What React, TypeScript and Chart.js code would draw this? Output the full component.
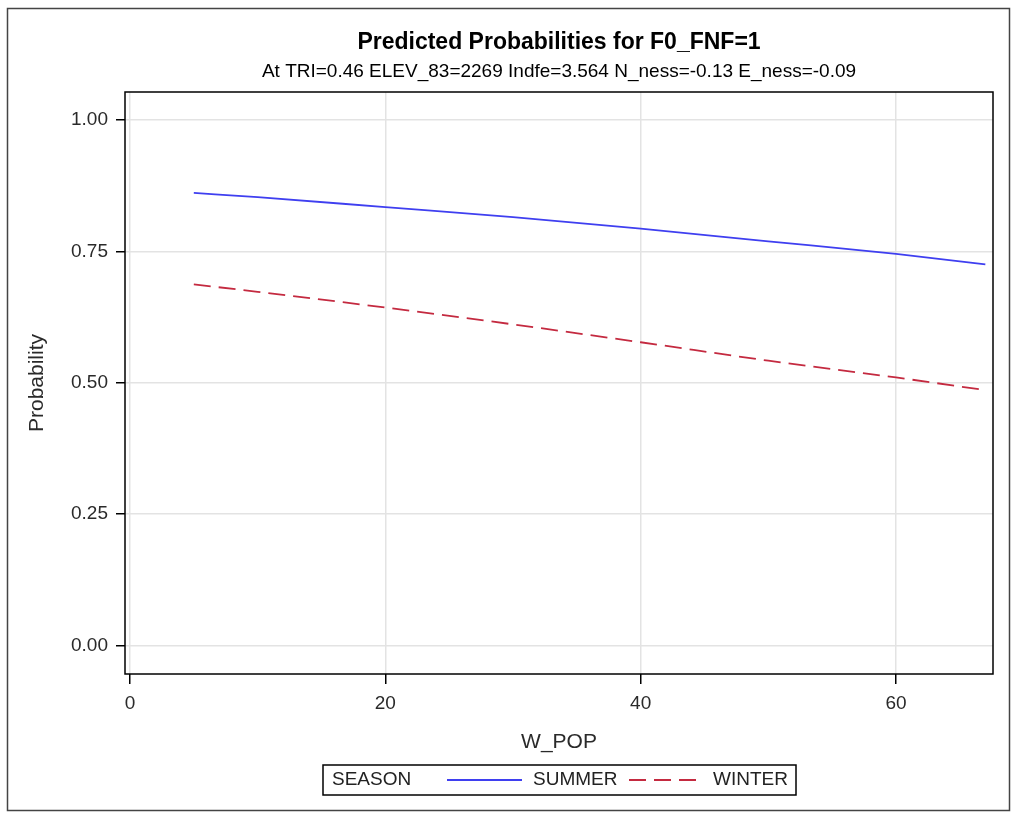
import React, { useEffect, useRef } from "react";
import { Chart, registerables } from "chart.js";

Chart.register(...registerables);

const TITLE = "Predicted Probabilities for F0_FNF=1";
const SUBTITLE = "At TRI=0.46 ELEV_83=2269 Indfe=3.564 N_ness=-0.13 E_ness=-0.09";
const X_LABEL = "W_POP";
const Y_LABEL = "Probability";
const LEGEND_TITLE = "SEASON";
const SERIES_NAMES = ["SUMMER", "WINTER"];
const W_POP = [5, 10, 20, 30, 40, 50, 60, 67];
const SUMMER = [0.861, 0.853, 0.834, 0.815, 0.793, 0.769, 0.745, 0.725];
const WINTER = [0.687, 0.673, 0.643, 0.611, 0.577, 0.542, 0.51, 0.486];
const X_TICKS = [0, 20, 40, 60];
const Y_TICKS = [0, 0.25, 0.5, 0.75, 1.0];

const FONT = '"Liberation Sans", Arial, Helvetica, sans-serif';

const decor = {
  id: "decor",
  beforeDraw(chart: any) {
    const { ctx, width, height } = chart;
    ctx.save();
    ctx.fillStyle = "#ffffff";
    ctx.fillRect(0, 0, width, height);
    ctx.restore();
  },
  afterDraw(chart: any) {
    const { ctx, chartArea: a } = chart;
    ctx.save();
    // outer border
    ctx.strokeStyle = "#444444";
    ctx.lineWidth = 1.5;
    ctx.strokeRect(7.5, 8.5, 1002, 802);
    // plot frame
    ctx.strokeStyle = "#000000";
    ctx.lineWidth = 1.5;
    ctx.strokeRect(a.left, a.top, a.right - a.left, a.bottom - a.top);
    // titles
    const cx = (a.left + a.right) / 2;
    ctx.fillStyle = "#000000";
    ctx.textAlign = "center";
    ctx.textBaseline = "middle";
    ctx.font = `bold 23px ${FONT}`;
    ctx.fillText(TITLE, cx, 43);
    ctx.font = `19px ${FONT}`;
    ctx.fillText(SUBTITLE, cx, 72);
    // legend
    const ly = 780;
    ctx.strokeStyle = "#000000";
    ctx.lineWidth = 1.5;
    ctx.strokeRect(323, 765, 473, 30);
    ctx.font = `19px ${FONT}`;
    ctx.textAlign = "left";
    ctx.fillStyle = "#222222";
    ctx.fillText(LEGEND_TITLE, 332, ly);
    const slots = [
      { lineX: 447, len: 75, textX: 533 },
      { lineX: 629, len: 68, textX: 713 },
    ];
    chart.data.datasets.forEach((ds: any, i: number) => {
      const s = slots[i];
      ctx.beginPath();
      ctx.setLineDash(ds.borderDash || []);
      ctx.strokeStyle = ds.borderColor;
      ctx.lineWidth = 1.8;
      ctx.moveTo(s.lineX, ly);
      ctx.lineTo(s.lineX + s.len, ly);
      ctx.stroke();
      ctx.setLineDash([]);
      ctx.fillStyle = "#222222";
      ctx.fillText(ds.label, s.textX, ly);
    });
    ctx.restore();
  },
};

export default function App() {
  const ref = useRef<HTMLCanvasElement>(null);
  useEffect(() => {
    if (!ref.current) return;
    const chart = new Chart(ref.current, {
      type: "line",
      data: {
        datasets: [
          {
            label: SERIES_NAMES[0],
            data: W_POP.map((x, i) => ({ x, y: SUMMER[i] })),
            borderColor: "#3f3ff0",
            borderWidth: 1.8,
            pointRadius: 0,
            cubicInterpolationMode: "monotone",
            fill: false,
          },
          {
            label: SERIES_NAMES[1],
            data: W_POP.map((x, i) => ({ x, y: WINTER[i] })),
            borderColor: "#c42a40",
            borderWidth: 1.8,
            borderDash: [17, 8],
            pointRadius: 0,
            cubicInterpolationMode: "monotone",
            fill: false,
          },
        ],
      },
      options: {
        responsive: false,
        animation: false,
        devicePixelRatio: 1,
        layout: { padding: { top: 92, right: 20, left: 0, bottom: 0 } },
        plugins: {
          legend: { display: false },
          title: { display: false },
          tooltip: { enabled: false },
        },
        scales: {
          x: {
            type: "linear",
            min: -0.39,
            max: 67.6,
            afterFit: (s: any) => {
              s.height = 139;
            },
            afterBuildTicks: (s: any) => {
              s.ticks = X_TICKS.map((v) => ({ value: v }));
            },
            ticks: {
              font: { family: FONT, size: 19 },
              color: "#2a2a2a",
              padding: 8,
              maxRotation: 0,
              autoSkip: false,
              callback: (v: any) => String(v),
            },
            grid: {
              color: "#e3e3e3",
              lineWidth: 1.5,
              tickColor: "#000000",
              tickLength: 10,
              tickWidth: 1.5,
            },
            border: { display: false },
            title: {
              display: true,
              text: X_LABEL,
              font: { family: FONT, size: 21 },
              color: "#2a2a2a",
              padding: { top: 0, bottom: 58 },
            },
          },
          y: {
            type: "linear",
            min: -0.054,
            max: 1.053,
            afterFit: (s: any) => {
              s.width = 125;
            },
            afterBuildTicks: (s: any) => {
              s.ticks = Y_TICKS.map((v) => ({ value: v }));
            },
            ticks: {
              font: { family: FONT, size: 19 },
              color: "#2a2a2a",
              padding: 8,
              autoSkip: false,
              callback: (v: any) => Number(v).toFixed(2),
            },
            grid: {
              color: "#e3e3e3",
              lineWidth: 1.5,
              tickColor: "#000000",
              tickLength: 9,
              tickWidth: 1.5,
            },
            border: { display: false },
            title: {
              display: true,
              text: Y_LABEL,
              font: { family: FONT, size: 21 },
              color: "#2a2a2a",
              padding: { top: 25, bottom: 0 },
            },
          },
        },
      },
      plugins: [decor],
    } as any);
    return () => chart.destroy();
  }, []);
  return (
    <div
      style={{
        position: "absolute",
        left: 0,
        top: 0,
        width: 1013,
        height: 813,
        background: "#ffffff",
      }}
    >
      <canvas ref={ref} width={1013} height={813} style={{ display: "block" }} />
    </div>
  );
}
